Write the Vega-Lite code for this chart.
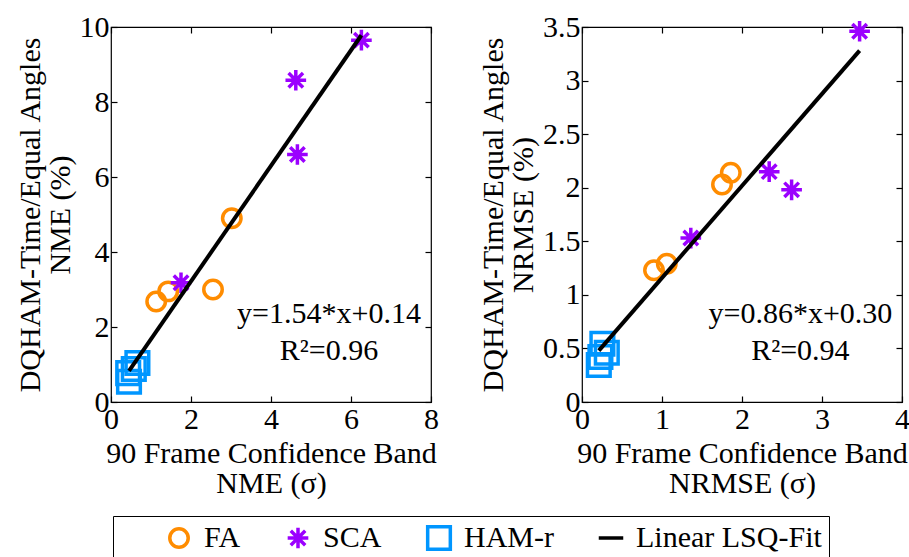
{
  "$schema": "https://vega.github.io/schema/vega-lite/v6.json",
  "padding": {"left": 14, "top": 11, "right": 5, "bottom": 0},
  "background": "white",
  "config": {
    "font": "Liberation Serif",
    "view": {"stroke": "black", "strokeWidth": 1.2},
    "axis": {
      "labelFont": "Liberation Serif", "labelFontSize": 30, "labelColor": "black",
      "titleFont": "Liberation Serif", "titleFontSize": 30, "titleFontWeight": "normal", "titleColor": "black",
      "titleLineHeight": 30,
      "domain": false, "grid": false, "tickColor": "black", "tickSize": -6, "tickWidth": 1.2,
      "labelPadding": 8, "labelFlush": false, "labelOverlap": false, "format": "~r"
    },
    "legend": {
      "orient": "none", "legendX": 2, "legendY": 489, "direction": "horizontal",
      "strokeColor": "black", "padding": 7, "fillColor": "white", "clipHeight": 30,
      "labelFont": "Liberation Serif", "labelFontSize": 30, "labelColor": "black", "labelLimit": 400,
      "labelOffset": 10, "columnPadding": 42, "symbolStrokeWidth": 3.5, "symbolOpacity": 1,
      "titleOrient": "left", "titlePadding": 44, "titleFontSize": 30
    }
  },
  "datasets": {
    "nme": [
      {"x": 1.13, "y": 2.68, "series": "FA"},
      {"x": 1.43, "y": 2.95, "series": "FA"},
      {"x": 2.55, "y": 3.0, "series": "FA"},
      {"x": 3.02, "y": 4.9, "series": "FA"},
      {"x": 1.75, "y": 3.18, "series": "SCA"},
      {"x": 4.62, "y": 8.58, "series": "SCA"},
      {"x": 4.66, "y": 6.6, "series": "SCA"},
      {"x": 6.26, "y": 9.65, "series": "SCA"},
      {"x": 0.66, "y": 1.04, "series": "HAM-r"},
      {"x": 0.57, "y": 0.88, "series": "HAM-r"},
      {"x": 0.43, "y": 0.77, "series": "HAM-r"},
      {"x": 0.45, "y": 0.54, "series": "HAM-r"}
    ],
    "nrmse": [
      {"x": 0.9, "y": 1.23, "series": "FA"},
      {"x": 1.06, "y": 1.29, "series": "FA"},
      {"x": 1.75, "y": 2.03, "series": "FA"},
      {"x": 1.86, "y": 2.14, "series": "FA"},
      {"x": 1.36, "y": 1.53, "series": "SCA"},
      {"x": 2.34, "y": 2.15, "series": "SCA"},
      {"x": 2.62, "y": 1.98, "series": "SCA"},
      {"x": 3.47, "y": 3.46, "series": "SCA"},
      {"x": 0.255, "y": 0.544, "series": "HAM-r"},
      {"x": 0.31, "y": 0.46, "series": "HAM-r"},
      {"x": 0.23, "y": 0.42, "series": "HAM-r"},
      {"x": 0.21, "y": 0.345, "series": "HAM-r"}
    ],
    "fit_nme": [
      {"x": 0.45, "y": 0.83, "series": "Linear LSQ-Fit"},
      {"x": 6.26, "y": 9.78, "series": "Linear LSQ-Fit"}
    ],
    "fit_nrmse": [
      {"x": 0.21, "y": 0.48, "series": "Linear LSQ-Fit"},
      {"x": 3.47, "y": 3.28, "series": "Linear LSQ-Fit"}
    ]
  },
  "spacing": 37,
  "hconcat": [
    {
      "width": 320, "height": 375,
      "resolve": {"axis": {"x": "independent", "y": "independent"}},
      "layer": [
        {
          "data": {"name": "nme"},
          "mark": {"type": "point", "filled": false, "strokeWidth": 3.5, "opacity": 1},
          "encoding": {
            "x": {"field": "x", "type": "quantitative", "scale": {"domain": [0, 8], "nice": false, "zero": false},
                  "axis": {"orient": "bottom", "values": [0, 2, 4, 6, 8], "title": ["90 Frame Confidence Band", "NME (σ)"]}},
            "y": {"field": "y", "type": "quantitative", "scale": {"domain": [0, 10], "nice": false, "zero": false},
                  "axis": {"orient": "left", "values": [0, 2, 4, 6, 8, 10], "title": ["DQHAM-Time/Equal Angles", "NME (%)"]}},
            "color": {"field": "series", "type": "nominal",
                      "scale": {"domain": ["FA", "SCA", "HAM-r", "Linear LSQ-Fit"], "range": ["#FF8C00", "#9B00FF", "#0096FF", "#000000"]},
                      "legend": {"title": "\u00a0", "titleOrient": "left", "titlePadding": 44}},
            "shape": {"field": "series", "type": "nominal",
                      "scale": {"domain": ["FA", "SCA", "HAM-r", "Linear LSQ-Fit"], "range": ["circle", "M0,-1L0,1M-1,0L1,0M-0.7,-0.7L0.7,0.7M-0.7,0.7L0.7,-0.7", "square", "M-1,0L1,0"]}},
            "size": {"field": "series", "type": "nominal", "legend": null,
                     "scale": {"domain": ["FA", "SCA", "HAM-r", "Linear LSQ-Fit"], "range": [340, 600, 576, 3600]}}
          }
        },
        {
          "data": {"name": "fit_nme"},
          "mark": {"type": "line", "strokeWidth": 4, "color": "black"},
          "encoding": {
            "x": {"field": "x", "type": "quantitative", "scale": {"domain": [0, 8], "nice": false, "zero": false},
                  "axis": {"orient": "top", "values": [0, 2, 4, 6, 8], "labels": false, "title": null}},
            "y": {"field": "y", "type": "quantitative", "scale": {"domain": [0, 10], "nice": false, "zero": false},
                  "axis": {"orient": "right", "values": [0, 2, 4, 6, 8, 10], "labels": false, "title": null}}
          }
        },
        {
          "data": {"values": [{}]},
          "mark": {"type": "text", "fontSize": 30, "font": "Liberation Serif", "color": "black"},
          "encoding": {
            "x": {"datum": 5.45, "type": "quantitative", "axis": null},
            "y": {"datum": 2.35, "type": "quantitative", "axis": null},
            "text": {"value": "y=1.54*x+0.14"}
          }
        },
        {
          "data": {"values": [{}]},
          "mark": {"type": "text", "fontSize": 30, "font": "Liberation Serif", "color": "black"},
          "encoding": {
            "x": {"datum": 5.45, "type": "quantitative", "axis": null},
            "y": {"datum": 1.36, "type": "quantitative", "axis": null},
            "text": {"value": "R²=0.96"}
          }
        }
      ]
    },
    {
      "width": 320, "height": 375,
      "resolve": {"axis": {"x": "independent", "y": "independent"}},
      "layer": [
        {
          "data": {"name": "nrmse"},
          "mark": {"type": "point", "filled": false, "strokeWidth": 3.5, "opacity": 1},
          "encoding": {
            "x": {"field": "x", "type": "quantitative", "scale": {"domain": [0, 4], "nice": false, "zero": false},
                  "axis": {"orient": "bottom", "values": [0, 1, 2, 3, 4], "title": ["90 Frame Confidence Band", "NRMSE (σ)"]}},
            "y": {"field": "y", "type": "quantitative", "scale": {"domain": [0, 3.5], "nice": false, "zero": false},
                  "axis": {"orient": "left", "values": [0, 0.5, 1, 1.5, 2, 2.5, 3, 3.5], "title": ["DQHAM-Time/Equal Angles", "NRMSE (%)"]}},
            "color": {"field": "series", "type": "nominal",
                      "scale": {"domain": ["FA", "SCA", "HAM-r", "Linear LSQ-Fit"], "range": ["#FF8C00", "#9B00FF", "#0096FF", "#000000"]},
                      "legend": {"title": "\u00a0", "titleOrient": "left", "titlePadding": 44}},
            "shape": {"field": "series", "type": "nominal",
                      "scale": {"domain": ["FA", "SCA", "HAM-r", "Linear LSQ-Fit"], "range": ["circle", "M0,-1L0,1M-1,0L1,0M-0.7,-0.7L0.7,0.7M-0.7,0.7L0.7,-0.7", "square", "M-1,0L1,0"]}},
            "size": {"field": "series", "type": "nominal", "legend": null,
                     "scale": {"domain": ["FA", "SCA", "HAM-r", "Linear LSQ-Fit"], "range": [340, 600, 576, 3600]}}
          }
        },
        {
          "data": {"name": "fit_nrmse"},
          "mark": {"type": "line", "strokeWidth": 4, "color": "black"},
          "encoding": {
            "x": {"field": "x", "type": "quantitative", "scale": {"domain": [0, 4], "nice": false, "zero": false},
                  "axis": {"orient": "top", "values": [0, 1, 2, 3, 4], "labels": false, "title": null}},
            "y": {"field": "y", "type": "quantitative", "scale": {"domain": [0, 3.5], "nice": false, "zero": false},
                  "axis": {"orient": "right", "values": [0, 0.5, 1, 1.5, 2, 2.5, 3, 3.5], "labels": false, "title": null}}
          }
        },
        {
          "data": {"values": [{}]},
          "mark": {"type": "text", "fontSize": 30, "font": "Liberation Serif", "color": "black"},
          "encoding": {
            "x": {"datum": 2.73, "type": "quantitative", "axis": null},
            "y": {"datum": 0.82, "type": "quantitative", "axis": null},
            "text": {"value": "y=0.86*x+0.30"}
          }
        },
        {
          "data": {"values": [{}]},
          "mark": {"type": "text", "fontSize": 30, "font": "Liberation Serif", "color": "black"},
          "encoding": {
            "x": {"datum": 2.73, "type": "quantitative", "axis": null},
            "y": {"datum": 0.475, "type": "quantitative", "axis": null},
            "text": {"value": "R²=0.94"}
          }
        }
      ]
    }
  ]
}
